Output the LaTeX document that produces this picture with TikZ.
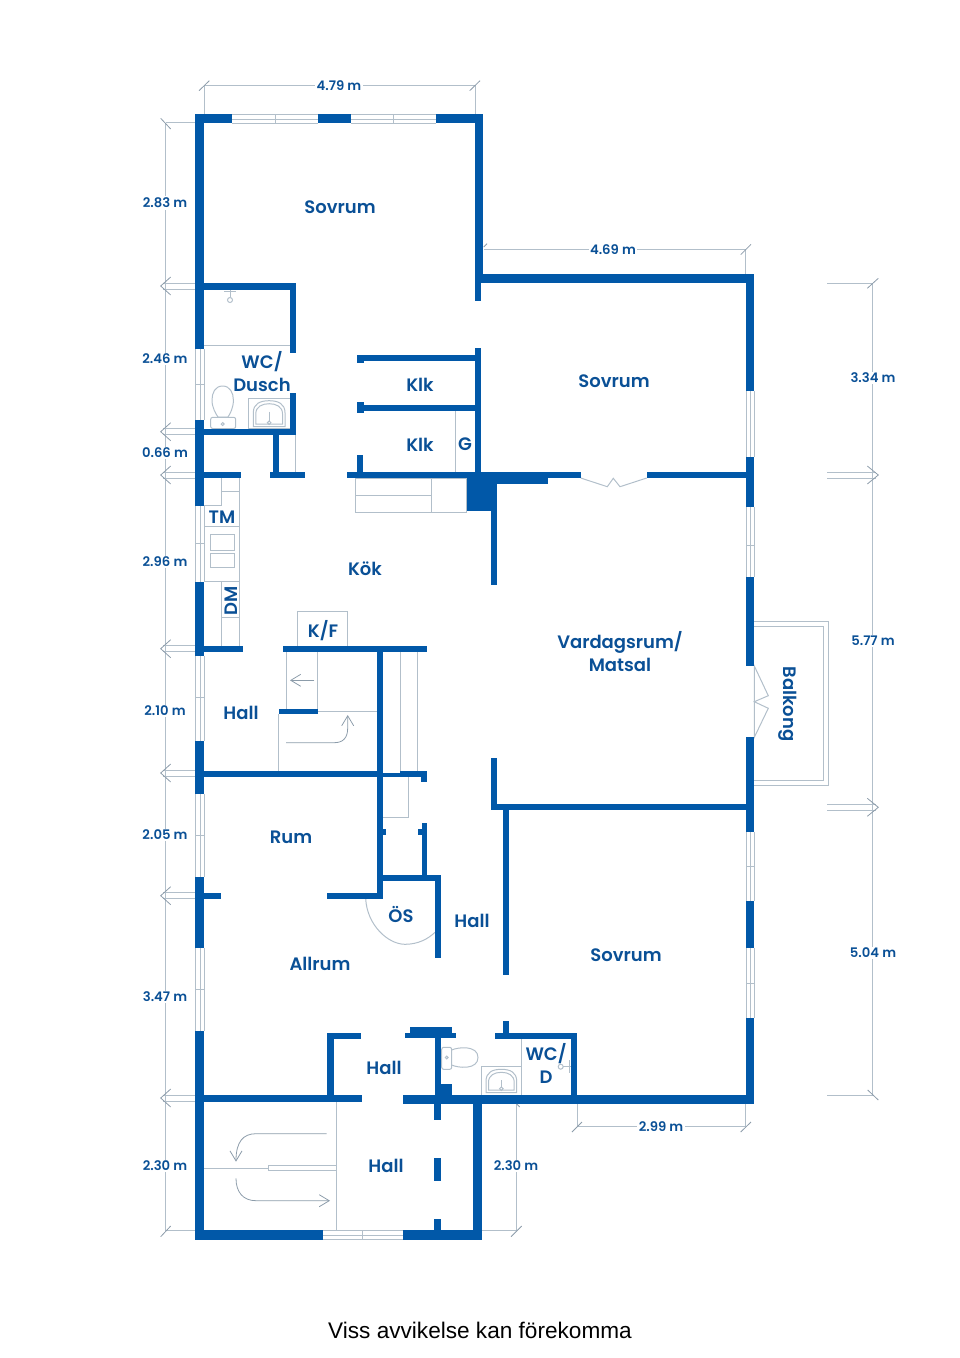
\documentclass[tikz,border=0pt]{standalone}
\usepackage{fontspec}
\setmainfont{Poppins}[BoldFont={Poppins SemiBold}]
\newfontfamily\footfont{Liberation Sans}
\usetikzlibrary{arrows.meta}
\definecolor{WallBlue}{RGB}{1,88,168}
\definecolor{LabelBlue}{RGB}{10,80,150}
\definecolor{FineGray}{RGB}{178,191,202}
\definecolor{ArrowGray}{RGB}{140,156,170}

% bowl of a wash basin: left, right, top, bottom
\newcommand{\basinbowl}[4]{
  \draw[fine] (#1,#4) -- (#1,{#3+12}) .. controls (#1,{#3+3}) and ({(#1+#2)/2-9},#3) .. ({(#1+#2)/2},#3)
    .. controls ({(#1+#2)/2+9},#3) and (#2,{#3+3}) .. (#2,{#3+12}) -- (#2,#4) -- cycle;
  \draw[fine] ({#1+2.5},{#4-2.5}) -- ({#1+2.5},{#3+13}) .. controls ({#1+2.5},{#3+6}) and ({(#1+#2)/2-7},{#3+3}) .. ({(#1+#2)/2},{#3+3})
    .. controls ({(#1+#2)/2+7},{#3+3}) and ({#2-2.5},{#3+6}) .. ({#2-2.5},{#3+13}) -- ({#2-2.5},{#4-2.5}) -- cycle;
  \draw[fine] ({(#1+#2)/2},{#3+11}) -- ({(#1+#2)/2},{#4-5});
  \draw[fine] ({(#1+#2)/2},{#4-4}) circle (1.8);
}

\begin{document}
\begin{tikzpicture}[
  x=1pt, y=-1pt,
  wall/.style={fill=WallBlue},
  fine/.style={draw=FineGray, line width=1pt},
  flow/.style={draw=ArrowGray, line width=0.8pt, -{Straight Barb[length=10pt, width=12pt]}},
  room/.style={text=LabelBlue, font=\bfseries\fontsize{18}{23}\selectfont, align=center, inner sep=1pt},
  size/.style={text=LabelBlue, font=\bfseries\fontsize{13.2}{15}\selectfont, fill=white, inner sep=1.5pt}
  ]
\useasboundingbox (0,0) rectangle (960,1358);

% Windows
\foreach \a/\b in {232/318, 351/436, 323/403}{
  \pgfmathsetmacro{\ya}{\a==323 ? 1230.5 : 114.5}
  \foreach \k in {0,4.5,9}
    \draw[fine] (\a,\ya+\k) -- (\b,\ya+\k);
}
\foreach \a/\b in {349/420, 506/582, 656/741, 794/877, 948/1031}
  \foreach \k in {195.5,200,204}
    \draw[fine] (\k,\a) -- (\k,\b);
\foreach \a/\b in {391/457, 507/577, 832/901, 948/1018}
  \foreach \k in {746,750,754}
    \draw[fine] (\k,\a) -- (\k,\b);
\foreach \k in {275.3, 393.3}
  \draw[fine] (\k,114.5) -- (\k,123.5);
\draw[fine] (362.7,1230.5) -- (362.7,1239.5);
\foreach \k in {384.3, 543.3, 697.7, 835.7, 989.3}
  \draw[fine] (195.5,\k) -- (204,\k);
\foreach \k in {545, 866.7, 983.3}
  \draw[fine] (746,\k) -- (754,\k);

% Balcony and doors
\draw[fine] (754.3,621.7) -- (828.3,621.7) -- (828.3,785) -- (754.3,785);
\draw[fine] (754.3,626.7) -- (823,626.7) -- (823,780.7) -- (754.3,780.7);
\draw[fine] (754.3,666) -- (768.3,695.7) -- (754.3,701.7) -- (768.3,708.3) -- (754.3,737.3) -- cycle;
\draw[fine] (580.7,478) -- (607.3,486.7) -- (613.3,478.3) -- (620,486.7) -- (646.7,478);
\draw[fine] (365.7,898.7) .. controls (367,925) and (388,944.3) .. (405,944.3)
  .. controls (418,944.3) and (428,939) .. (435,932.3);

% Bathroom upstairs
\draw[fine] (204,345) -- (290,345);
\draw[fine] (295.7,435) -- (295.7,472);
\draw[fine] (222.7,386) .. controls (215,386) and (212,393) .. (212,400) .. controls (212,408) and (216,414) .. (218,417)
  -- (228,417) .. controls (230,414) and (233.4,408) .. (233.4,400) .. controls (233.4,393) and (230,386) .. (222.7,386);
\draw[fine, rounded corners=2pt] (210.7,417.3) rectangle (235.7,428.5);
\draw[fine] (222.7,424) circle (1.5);
\draw[fine] (248.3,398.3) rectangle (290,428.7);
\basinbowl{253.3}{285}{400.7}{426.7}
\draw[fine] (224,291) -- (235.7,291);
\draw[fine] (230,290) -- (230,297);
\draw[fine] (230,300) circle (2.5);

% Closets and kitchen fittings
\draw[fine] (455.3,411) -- (455.3,472);
\draw[fine] (355.7,478) rectangle (466.7,512.3);
\draw[fine] (431.7,478) -- (431.7,512.3);
\draw[fine] (355.7,495) -- (431.7,495);
\draw[fine] (239,478) -- (239,648);
\draw[fine] (221.7,478) -- (221.7,505.7) -- (204,505.7);
\draw[fine] (221.7,491.7) -- (239,491.7);
\draw[fine] (204,526.7) -- (239,526.7);
\draw[fine] (210.7,534) rectangle (234.3,550.7);
\draw[fine] (210.7,553.3) rectangle (234.3,567.7);
\draw[fine] (204,581.7) -- (239,581.7);
\draw[fine] (221.7,581.7) -- (221.7,648);
\draw[fine] (221.7,617) -- (239,617);
\draw[fine] (297.3,645.7) -- (297.3,611) -- (347.7,611) -- (347.7,645.7);

% Stairs
\draw[fine] (286,652) -- (286,709);
\draw[fine] (317.7,652) -- (317.7,709);
\draw[fine] (317.7,711) -- (377,711);
\draw[fine] (278.7,714) -- (278.7,770.7);
\draw[fine] (400.3,652) -- (400.3,773);
\draw[fine] (417.7,652) -- (417.7,771);
\draw[fine] (408.3,776.7) -- (408.3,817.7) -- (383,817.7);
\draw[flow] (314.3,680.3) -- (290,680.3);
\draw[flow] (286,742.7) -- (334,742.7) .. controls (343,742.7) and (347.7,738) .. (347.7,728) -- (347.7,715);
\draw[flow] (326.7,1133.7) -- (256,1133.7) .. controls (243,1133.7) and (236,1142) .. (236,1161.7);
\draw[flow] (236,1178.3) .. controls (236,1192) and (243,1200.7) .. (256,1200.7) -- (330,1200.7);

% Garage
\draw[fine] (336.7,1101.7) -- (336.7,1230.5);
\draw[fine] (204,1168.3) -- (268.3,1168.3);
\draw[fine] (268.3,1165.3) rectangle (336.7,1170.7);

% Bathroom downstairs
\draw[fine] (521.7,1038) -- (521.7,1095);
\draw[fine] (481.7,1095) -- (481.7,1066.7) -- (521.7,1066.7);
\basinbowl{486}{516.7}{1069.3}{1092.7}
\draw[fine, rounded corners=2pt] (441.7,1047.3) rectangle (451.7,1069.3);
\draw[fine] (446.7,1057.5) circle (1.4);
\draw[fine] (451.7,1050) .. controls (458,1047) and (478,1045) .. (478,1057.5) .. controls (478,1070) and (458,1068) .. (451.7,1065);
\draw[fine] (560.7,1066.7) circle (2.5);
\draw[fine] (563.2,1066.7) -- (571,1066.7);
\draw[fine] (569,1060) -- (569,1073);

% Walls, outer shell
\foreach \a/\b/\c/\d in {
  195.3/114.3/232.3/123.3, 317.7/114.3/351.3/123.3, 435.7/114.3/483.3/123.3,
  195.3/114.3/204/348.7, 195.3/420/204/505.7, 195.3/581.7/204/655.7, 195.3/740.7/204/794.3,
  195.3/876.7/204/948.3, 195.3/1031/204/1239.7,
  195.3/1230.3/323/1239.7, 403/1230.3/482/1239.7, 473.3/1095/482/1239.7,
  474.7/114.3/483.3/274.3, 474.7/274.3/481/301.3, 474.7/274.3/754.3/283.3,
  745.7/274.3/754.3/391, 745.7/456.7/754.3/507, 745.7/577/754.3/666, 745.7/737.3/754.3/832.3,
  745.7/900.7/754.3/948.3, 745.7/1017.7/754.3/1103.7, 403.3/1095/754.3/1103.7}
  \fill[wall] (\a,\b) rectangle (\c,\d);

% Walls, inside
\foreach \a/\b/\c/\d in {
  204/283.3/296/290, 290/283.3/296/353, 290/393.3/296/435, 204/428.7/296/435, 273/435/279/472.3,
  204/472.3/241/478.3, 270/472.3/304.7/478.3, 347.3/472.3/580.7/478.3, 646.7/472.3/746/478.3,
  466.7/472.3/496.7/511, 466.7/478.3/547.7/484.3, 491/511/497.3/585,
  357.3/355/474.7/361, 357.3/355/364/363, 357.3/405/474.7/411, 357.3/401.7/364/413.3,
  357.3/455/363.3/472.3, 474.7/348.3/481/472.3,
  204/645.7/242.7/651.7, 282.7/645.7/427.3/652, 278.7/709/317.7/714.3,
  377/652/383.3/898.7, 204/770.7/383.3/776.7, 383.3/773/400.3/776.7, 400.3/770.7/427.3/776.7, 421/776/427.3/782,
  383.3/828.7/385.7/834.7, 421.7/822.7/427.3/875, 417.7/828.7/421.7/834.7,
  383.3/874.7/441.3/880.7, 435.3/874.7/441.3/958.3, 327/892.7/383.3/898.7, 204/892.7/220.7/898.7,
  491/758.3/497.3/810.3, 491/804.3/745.7/810.3, 503.3/808/509.3/975,
  204/1095/362/1101.7, 327.3/1032.7/333.7/1095, 327.3/1032.7/361.3/1038.7,
  405/1032.7/456/1038.3, 410/1027.3/452/1032.7, 435/1036/441/1095, 435/1084.3/452/1095,
  434/1101/440.7/1120, 434/1158.3/440.7/1180.7, 434/1219/440.7/1230.3,
  495.3/1032.7/576.7/1038.7, 503/1021/509.3/1032.7, 571/1032.7/576.7/1095}
  \fill[wall] (\a,\b) rectangle (\c,\d);

% Dimension lines
\draw[fine] (165.7,122.7) -- (165.7,1230.5);
\draw[fine] (872.7,283.3) -- (872.7,1095);
\draw[fine] (204,85.3) -- (475,85.3);
\draw[fine] (204,85.3) -- (204,114.3);
\draw[fine] (475,85.3) -- (475,114.3);
\draw[fine] (483.7,249.3) -- (745.7,249.3) -- (745.7,274.3);
\draw[fine] (745.7,1103.7) -- (745.7,1126.7) -- (577,1126.7) -- (577,1103.7);
\draw[fine] (482,1230.5) -- (516.7,1230.5) -- (516.7,1103.7);
\draw[fine] (165.7,122.7) -- (195.3,122.7);
\draw[fine] (165.7,1230.5) -- (195.3,1230.5);
\draw[fine] (827,283.3) -- (872.7,283.3);
\draw[fine] (827,1095) -- (872.7,1095);

% Ticks and split marks
\foreach \a/\b/\c/\d in {
  199/90.7/209.3/80.7, 469.7/90.7/480/80.7, 483.7/247/487/243.7, 740.7/254.7/751/244.3, 160.7/118.3/170.7/129, 160.7/1236.7/170.7/1226,
  867.3/288.3/878.3/278.3, 867.7/1090/878.3/1100, 572/1132/582/1122, 740.7/1132/751/1122, 511/1236.7/521.7/1226, 516.7/1104/519.7/1107}
  \draw[draw=ArrowGray, line width=0.8pt] (\a,\b) -- (\c,\d);
\foreach \y in {286, 431.7, 475, 648.7, 773, 895.7, 1098}{
  \draw[fine] (163,\y-3) -- (195.3,\y-3);
  \draw[fine] (163,\y+3) -- (195.3,\y+3);
  \draw[draw=ArrowGray, line width=0.8pt] (170.7,\y-9) -- (160.7,\y) -- (170.7,\y+9);
}
\foreach \y in {475, 807.3}{
  \draw[fine] (827,\y-3) -- (876,\y-3);
  \draw[fine] (827,\y+3) -- (876,\y+3);
  \draw[draw=ArrowGray, line width=0.8pt] (867.3,\y-9) -- (878.3,\y) -- (867.3,\y+9);
}

% Room names
\node[room] (bedtop) at (340,207) {Sovrum};
\node[room] (bedright) at (614,381) {Sovrum};
\node[room] (bath) at (262,372) {WC/\\Dusch};
\node[room] (closeta) at (420,385) {Klk};
\node[room] (closetb) at (420,445) {Klk};
\node[room] (closetg) at (465,444) {G};
\node[room] (oven) at (222,517) {TM};
\node[room] (kitchen) at (365,569) {Kök};
\node[room, rotate=90] (dishes) at (231,601) {DM};
\node[room] (fridge) at (323,631) {K/F};
\node[room] (living) at (620,651.5) {Vardagsrum/\\Matsal};
\node[room, rotate=-90] (balcony) at (788,704) {Balkong};
\node[room] (hallleft) at (241,713) {Hall};
\node[room] (smallroom) at (291,837) {Rum};
\node[room] (store) at (401,914) {ÖS};
\node[room] (hallmid) at (472,921) {Hall};
\node[room] (family) at (320,964) {Allrum};
\node[room] (bedlow) at (626,955) {Sovrum};
\node[room] (hallback) at (384,1068) {Hall};
\node[room] (wcd) at (546,1063.5) {WC/\\D};
\node[room] (hallgarage) at (386,1166) {Hall};

% Measures
\node[size] (dtop) at (339,86) {4.79 m};
\node[size] (dright) at (613,250) {4.69 m};
\node[size] (da) at (165,203) {2.83 m};
\node[size] (db) at (165,359) {2.46 m};
\node[size] (dc) at (165,453) {0.66 m};
\node[size] (dd) at (165,562) {2.96 m};
\node[size] (de) at (165,711) {2.10 m};
\node[size] (df) at (165,835) {2.05 m};
\node[size] (dg) at (165,997) {3.47 m};
\node[size] (dh) at (165,1166) {2.30 m};
\node[size] (di) at (516,1166) {2.30 m};
\node[size] (dj) at (661,1127) {2.99 m};
\node[size] (dk) at (873,378) {3.34 m};
\node[size] (dl) at (873,641) {5.77 m};
\node[size] (dm) at (873,953) {5.04 m};

% Footnote
\node[text=black, font=\footfont\fontsize{22.6}{24}\selectfont, inner sep=0pt] (note) at (480,1330.5) {Viss avvikelse kan förekomma};
\end{tikzpicture}
\end{document}
